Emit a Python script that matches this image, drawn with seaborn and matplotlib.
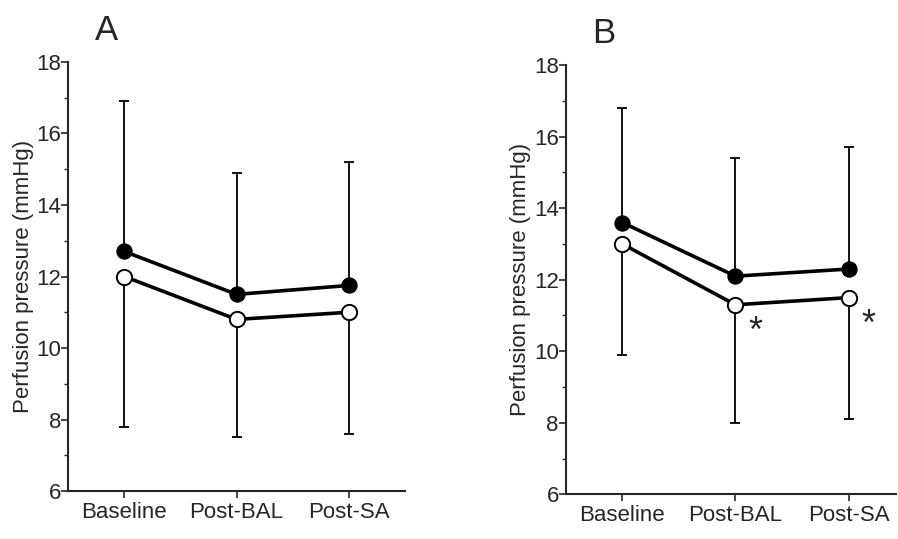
import numpy as np
import matplotlib
matplotlib.use("Agg")
import matplotlib.pyplot as plt
import seaborn as sns
import pandas as pd
from matplotlib.ticker import MultipleLocator

sns.set_style("ticks")
plt.rcParams["font.family"] = ["Liberation Sans", "DejaVu Sans"]

# ==========================
# DATA
# ==========================

phases = ["Baseline", "Post-BAL", "Post-SA"]

a_filled = [12.7, 11.5, 11.75]
a_open = [12.0, 10.8, 11.0]
a_filled_upper = [16.9, 14.9, 15.2]
a_open_lower = [7.8, 7.5, 7.6]

b_filled = [13.6, 12.1, 12.3]
b_open = [13.0, 11.3, 11.5]
b_filled_upper = [16.8, 15.4, 15.7]
b_open_lower = [9.9, 8.0, 8.1]
b_stars = ["Post-BAL", "Post-SA"]


def draw_panel(ax, filled, opened, upper, lower, label, stars=()):
    df = pd.DataFrame({
        "phase": phases * 2,
        "value": list(filled) + list(opened),
        "group": ["filled"] * 3 + ["open"] * 3,
    })

    # error bars: filled goes up, open goes down
    up = np.array(upper) - np.array(filled)
    down = np.array(opened) - np.array(lower)
    ax.errorbar(phases, filled, yerr=[np.zeros(3), up], fmt="none",
                ecolor="black", elinewidth=1.3, capsize=3.5, capthick=1.3, zorder=1)
    ax.errorbar(phases, opened, yerr=[down, np.zeros(3)], fmt="none",
                ecolor="black", elinewidth=1.3, capsize=3.5, capthick=1.3, zorder=1)

    sns.lineplot(data=df[df.group == "filled"], x="phase", y="value", sort=False,
                 color="black", lw=2.6, marker="o", markersize=11,
                 markerfacecolor="black", markeredgecolor="black", ax=ax, zorder=3)
    sns.lineplot(data=df[df.group == "open"], x="phase", y="value", sort=False,
                 color="black", lw=2.6, marker="o", markersize=11,
                 markerfacecolor="white", markeredgecolor="black",
                 markeredgewidth=1.4, ax=ax, zorder=3)

    for s in stars:
        i = phases.index(s)
        ax.annotate("*", (i, opened[i]), xytext=(9, -20), textcoords="offset points",
                    fontsize=26, ha="left", va="center")

    ax.set_ylim(6, 18)
    ax.yaxis.set_major_locator(MultipleLocator(2))
    ax.yaxis.set_minor_locator(MultipleLocator(1))
    ax.set_xlim(-0.5, 2.5)
    ax.set_xlabel("")
    ax.set_ylabel("Perfusion pressure (mmHg)", fontsize=16, labelpad=2)
    ax.tick_params(axis="both", which="major", labelsize=16, length=5, width=1.2,
                   direction="out")
    ax.tick_params(axis="y", which="major", pad=0)
    ax.tick_params(axis="x", which="major", pad=3)
    ax.tick_params(axis="y", which="minor", length=3, width=1)
    for sp in ["left", "bottom"]:
        ax.spines[sp].set_linewidth(1.5)
    sns.despine(ax=ax)
    ax.text(0.08, 1.035, label, transform=ax.transAxes, fontsize=25, ha="left", va="bottom")


fig = plt.figure(figsize=(8.98, 5.39), dpi=100)
ax_a = fig.add_axes([0.076, 0.089, 0.375, 0.796])
ax_b = fig.add_axes([0.630, 0.083, 0.368, 0.796])

draw_panel(ax_a, a_filled, a_open, a_filled_upper, a_open_lower, "A")
draw_panel(ax_b, b_filled, b_open, b_filled_upper, b_open_lower, "B", b_stars)
ax_b.set_xlim(-0.5, 2.42)

fig.savefig("out.png", dpi=100)
